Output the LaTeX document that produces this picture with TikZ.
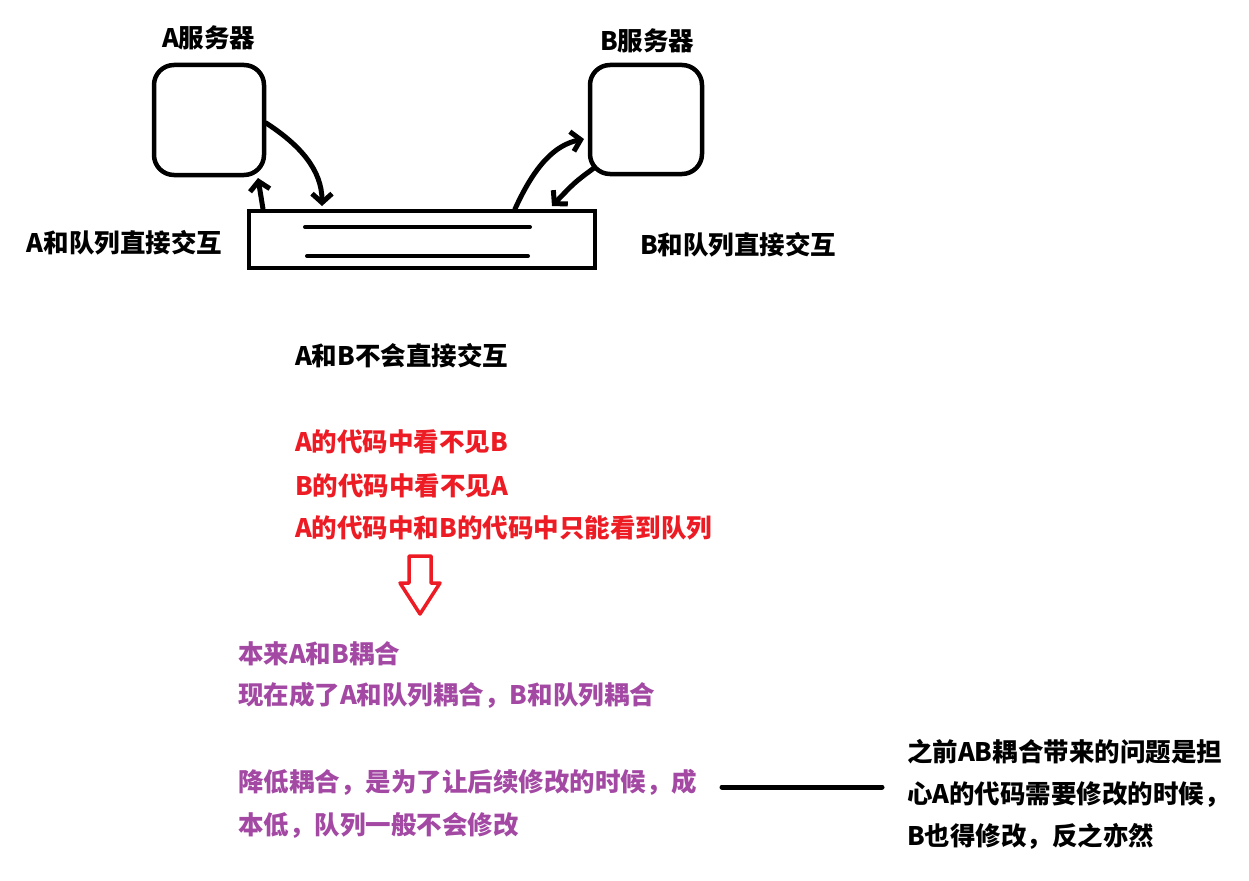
\documentclass[tikz,border=0pt]{standalone}
\usepackage{fontspec}
\newfontfamily\cjk{Noto Sans CJK SC}
\usetikzlibrary{arrows.meta}
\definecolor{redtxt}{HTML}{ED1C24}
\definecolor{purp}{HTML}{A349A4}
\begin{document}
\begin{tikzpicture}[x=1pt,y=-1pt, line width=4pt,
  txt/.style={font=\cjk\bfseries\fontsize{25.5}{30}\selectfont, anchor=west, inner sep=0pt},
  box/.style={draw, line width=4.5pt, inner sep=0pt},
  arr/.style={-{Straight Barb[length=9pt,width=20pt,line width=5pt]}, line cap=round, line width=5pt}]
\useasboundingbox[fill=white] (0,0) rectangle (1249,880);

% servers and queue
\node[box, rounded corners=20pt, minimum width=110pt, minimum height=110pt] (A) at (209,120) {};
\node[box, rounded corners=20pt, minimum width=112pt, minimum height=109pt] (B) at (646,119.5) {};
\node[box, minimum width=346pt, minimum height=57pt] (Q) at (422,239.5) {};
\draw[line cap=round, line width=4pt] (305,227) -- (530,227);
\draw[line cap=round, line width=4pt] (307,256) -- (528,256);

% connector end points
\coordinate (a1) at (266,123);
\coordinate (q1) at (322,206);
\coordinate (q2) at (263,209);
\coordinate (a2) at (258,178);
\coordinate (q3) at (515,209);
\coordinate (b1) at (584,139);
\coordinate (b2) at (594,168);
\coordinate (q4) at (552,206);

\draw[arr] (a1) .. controls (300,145) and (322,170) .. (q1);
\draw[arr] (q2) .. controls (261,197) .. (a2);
\draw[arr] (q3) .. controls (535,165) and (555,145) .. (b1);
\draw[arr] (b2) .. controls (575,182) .. (q4);

% labels
\node[txt] (tA) at (160,38) {A服务器};
\node[txt] (tB) at (598,41) {B服务器};
\node[txt] (tAQ) at (25,243) {A和队列直接交互};
\node[txt] (tBQ) at (638,245) {B和队列直接交互};
\node[txt] (tAB) at (293,356) {A和B不会直接交互};

\node[txt, text=redtxt] (r1) at (293,442) {A的代码中看不见B};
\node[txt, text=redtxt] (r2) at (293,486) {B的代码中看不见A};
\node[txt, text=redtxt] (r3) at (293,528) {A的代码中和B的代码中只能看到队列};

\draw[redtxt, line width=3.5pt, line join=round]
  (409,556) -- (431,556) -- (431,583) -- (440,583) -- (420,614) -- (400,583) -- (409,583) -- cycle;

\node[txt, text=purp] (p1) at (236,654) {本来A和B耦合};
\node[txt, text=purp] (p2) at (236,695) {现在成了A和队列耦合，B和队列耦合};
\node[txt, text=purp] (p3) at (236,782) {降低耦合，是为了让后续修改的时候，成};
\node[txt, text=purp] (p4) at (236,825) {本低，队列一般不会修改};

\node[txt] (n1) at (905,752) {之前AB耦合带来的问题是担};
\node[txt] (n2) at (905,795) {心A的代码需要修改的时候，};
\node[txt] (n3) at (905,836) {B也得修改，反之亦然};

\coordinate (l1) at (722,787);
\coordinate (l2) at (882,787);
\draw[line width=5pt, line cap=round] (l1) -- (l2);
\end{tikzpicture}
\end{document}
